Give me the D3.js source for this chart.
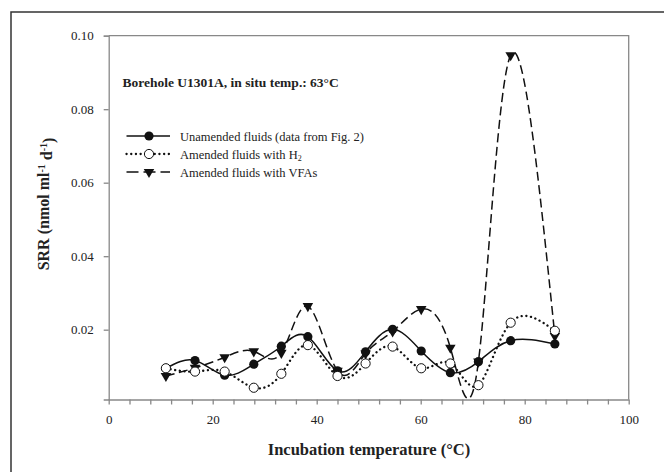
<!DOCTYPE html>
<html lang="en">
<head>
    <title>SRR vs incubation temperature</title>
    <script src="https://d3js.org/d3.v7.min.js"></script>
    <style>
        body { margin: 0; background: #fff; }
        text { font-family: "Liberation Serif", "Times New Roman", serif; fill: #222; }
    </style>
</head>
<body>
    <script>
        // values
        var temps      = [11, 16.6, 22.3, 27.9, 33.2, 38.3, 44, 49.4, 54.6, 60.1, 65.7, 71.1, 77.3, 85.8];
        var unamended  = [0.0095, 0.0116, 0.0076, 0.0106, 0.0155, 0.0181, 0.0088, 0.0140, 0.0201, 0.0142, 0.0083, 0.0113, 0.0170, 0.0161];
        var amendedH2  = [0.0095, 0.0086, 0.0086, 0.0042, 0.0080, 0.0158, 0.0074, 0.0108, 0.0154, 0.0095, 0.0108, 0.0049, 0.0219, 0.0197];
        var amendedVFA = [0.0074, 0.0096, 0.0125, 0.0141, 0.0137, 0.0264, 0.0088, 0.0135, 0.0195, 0.0256, 0.0151, 0.0113, 0.0947, 0.0183];

        var yTickValues = [0.02, 0.04, 0.06, 0.08, 0.10];
        var xTickValues = d3.range(0, 101, 4);

        var legendLabels = ["Unamended fluids (data from Fig. 2)", "Amended fluids with H", "Amended fluids with VFAs"];

        var width = 664, height = 472;

        var svg = d3.select("body").append("svg")
            .attr("width", width)
            .attr("height", height);

        // outer frame (runs off the right and bottom of the picture)
        svg.append("path")
            .attr("d", "M11,472V12H664")
            .attr("fill", "none")
            .attr("stroke", "#333")
            .attr("stroke-width", 1.5);

        var x = d3.scaleLinear().domain([0, 100]).range([108.7, 628.7]);
        var y = d3.scaleLinear().domain([0.001, 0.10]).range([399.5, 35.7]);

        // clip for the spline curves
        svg.append("clipPath").attr("id", "plot-clip")
            .append("rect")
            .attr("x", x(0)).attr("y", y(0.10))
            .attr("width", x(100) - x(0)).attr("height", y(0.001) - y(0.10));

        // box: top and right
        svg.append("path")
            .attr("d", "M" + x(0) + "," + y(0.10) + "H" + x(100) + "V" + y(0.001))
            .attr("fill", "none")
            .attr("stroke", "#888")
            .attr("stroke-width", 1.3);

        svg.append("g")
            .attr("transform", "translate(" + x(0) + ",0)")
            .call(d3.axisLeft(y)
                .tickValues(yTickValues)
                .tickFormat(d3.format(".2f"))
                .tickSize(5)
                .tickSizeOuter(5)
                .tickPadding(10));

        svg.append("g")
            .attr("transform", "translate(0," + y(0.001) + ")")
            .call(d3.axisBottom(x)
                .tickValues(xTickValues)
                .tickFormat(function(d) { return d % 20 === 0 ? d : ""; })
                .tickSize(5)
                .tickSizeOuter(0)
                .tickPadding(10));

        svg.selectAll(".domain, .tick line").attr("stroke", "#888").attr("stroke-width", 1.3);
        svg.selectAll(".tick text")
            .style("font-family", '"Liberation Serif", "Times New Roman", serif')
            .style("font-size", "13px")
            .attr("fill", "#333");

        // axis titles
        svg.append("text")
            .attr("x", 369).attr("y", 455)
            .attr("text-anchor", "middle")
            .style("font-size", "16.5px").style("font-weight", "bold")
            .text("Incubation temperature (°C)");

        var yTitle = svg.append("text")
            .attr("transform", "translate(49,204) rotate(-90)")
            .attr("text-anchor", "middle")
            .style("font-size", "16px").style("font-weight", "bold");
        yTitle.append("tspan").text("SRR (nmol ml");
        yTitle.append("tspan").attr("dy", "-0.45em").style("font-size", "10px").text("-1");
        yTitle.append("tspan").attr("dy", "0.45em").text(" d");
        yTitle.append("tspan").attr("dy", "-0.45em").style("font-size", "10px").text("-1");
        yTitle.append("tspan").attr("dy", "0.45em").text(")");

        // panel title
        svg.append("text")
            .attr("x", 122.5).attr("y", 87)
            .style("font-size", "13.5px").style("font-weight", "bold")
            .text("Borehole U1301A, in situ temp.: 63°C");

        var line = d3.line()
            .x(function(d) { return x(d[0]); })
            .y(function(d) { return y(d[1]); })
            .curve(d3.curveNatural);

        var series = [
            { values: unamended,  dash: null,      width: 1.5, cap: "butt" },
            { values: amendedH2,  dash: "0.1,4.6", width: 2.3, cap: "round" },
            { values: amendedVFA, dash: "9,4.5",   width: 1.5, cap: "butt" }
        ];

        svg.append("g").attr("clip-path", "url(#plot-clip)")
            .selectAll("path")
            .data(series)
            .enter()
            .append("path")
            .attr("d", function(s) { return line(d3.zip(temps, s.values)); })
            .attr("fill", "none")
            .attr("stroke", "#111")
            .attr("stroke-width", function(s) { return s.width; })
            .attr("stroke-dasharray", function(s) { return s.dash; })
            .attr("stroke-linecap", function(s) { return s.cap; });

        var tri = d3.symbol().type(d3.symbolTriangle).size(48);

        function filledDot(g) {
            g.append("circle").attr("r", 4.6).attr("fill", "#111");
        }
        function openDot(g) {
            g.append("circle").attr("r", 4.6).attr("fill", "#fff").attr("stroke", "#111").attr("stroke-width", 1);
        }
        function triangle(g) {
            g.append("path").attr("d", tri()).attr("transform", "rotate(180)").attr("fill", "#111");
        }

        // markers: filled circles, then triangles, then open circles on top
        [[unamended, filledDot], [amendedVFA, triangle], [amendedH2, openDot]].forEach(function(p) {
            svg.append("g")
                .selectAll("g")
                .data(d3.zip(temps, p[0]))
                .enter()
                .append("g")
                .attr("transform", function(d) { return "translate(" + x(d[0]) + "," + y(d[1]) + ")"; })
                .each(function() { p[1](d3.select(this)); });
        });

        // legend
        var legendRows = [136, 154, 172];
        var markers = [filledDot, openDot, triangle];
        var legend = svg.append("g");
        series.forEach(function(s, i) {
            var row = legend.append("g").attr("transform", "translate(0," + legendRows[i] + ")");
            row.append("line")
                .attr("x1", 126.5).attr("x2", 170)
                .attr("stroke", "#111")
                .attr("stroke-width", s.width)
                .attr("stroke-dasharray", i === 2 ? "12,5" : s.dash)
                .attr("stroke-linecap", s.cap);
            markers[i](row.append("g").attr("transform", "translate(149,0)"));
            var t = row.append("text")
                .attr("x", 180).attr("y", 4.5)
                .style("font-size", "12.5px")
                .text(legendLabels[i]);
            if (i === 1) {
                t.append("tspan").attr("dy", "0.3em").style("font-size", "8px").text("2");
            }
        });
    </script>
</body>
</html>
